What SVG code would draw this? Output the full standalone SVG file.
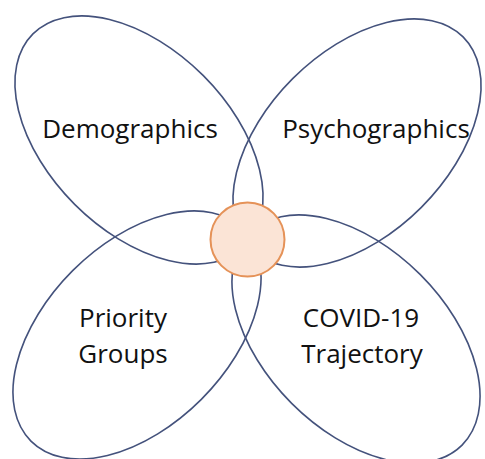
<svg xmlns="http://www.w3.org/2000/svg" width="485" height="459" viewBox="0 0 485 459">
  <style>
    .petal { fill: none; stroke: #44527c; stroke-width: 1.6; }
    .hub { fill: #fbe4d6; stroke: #e59258; stroke-width: 2; }
    .label { font-family: "Open Sans", "Noto Sans", "Liberation Sans", sans-serif; font-size: 26px; fill: #111; text-anchor: middle; }
  </style>
  <rect width="485" height="459" fill="#ffffff"/>
  <g id="petals">
    <g id="demographics">
      <ellipse class="petal" cx="0" cy="0" rx="150" ry="91" transform="translate(139,140) rotate(45)"/>
      <text class="label" x="130" y="138">Demographics</text>
    </g>
    <g id="psychographics">
      <ellipse class="petal" cx="0" cy="0" rx="150" ry="91" transform="translate(357,143) rotate(-45)"/>
      <text class="label" x="376" y="138">Psychographics</text>
    </g>
    <g id="priority-groups">
      <ellipse class="petal" cx="0" cy="0" rx="150" ry="91" transform="translate(137,335) rotate(-45)"/>
      <text class="label" x="123" y="327">Priority</text>
      <text class="label" x="123" y="363">Groups</text>
    </g>
    <g id="covid-trajectory">
      <ellipse class="petal" cx="0" cy="0" rx="150" ry="91" transform="translate(356,339) rotate(45)"/>
      <text class="label" x="361" y="327">COVID-19</text>
      <text class="label" x="362" y="363">Trajectory</text>
    </g>
  </g>
  <g id="hub">
    <circle class="hub" cx="247.5" cy="239.5" r="37"/>
  </g>
</svg>
